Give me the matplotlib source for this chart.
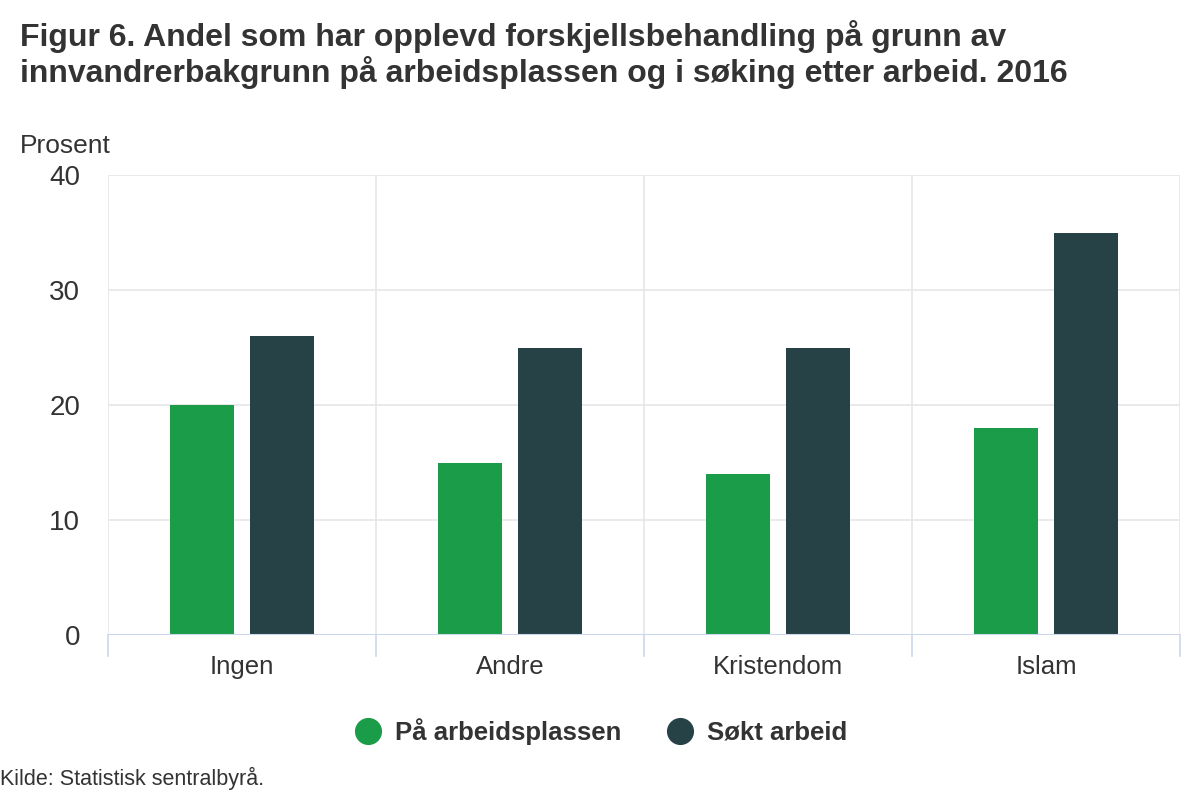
import numpy as np
import matplotlib
matplotlib.use("Agg")
import matplotlib.pyplot as plt
from matplotlib.lines import Line2D

plt.rcParams['font.family'] = ['Liberation Sans', 'DejaVu Sans']

categories = ['Ingen', 'Andre', 'Kristendom', 'Islam']
paa_arbeidsplassen = [20, 15, 14, 18]
sokt_arbeid = [26, 25, 25, 35]
series_names = ['På arbeidsplassen', 'Søkt arbeid']
colors = ['#1b9c48', '#274247']
txt = '#333333'

fig = plt.figure(figsize=(12, 8), dpi=100)
ax = fig.add_axes([0.09, 0.206, 0.8933, 0.575])

x = np.arange(len(categories))
w = 0.239
off = 0.149
ax.bar(x - off, paa_arbeidsplassen, width=w, color=colors[0], zorder=3)
ax.bar(x + off, sokt_arbeid, width=w, color=colors[1], zorder=3)

ax.set_xlim(-0.5, len(categories) - 0.5)
ax.set_ylim(0, 40)
ax.set_yticks([0, 10, 20, 30, 40])
ax.set_xticks(x)
ax.set_xticklabels(categories, fontsize=18.5, color=txt)
ax.tick_params(axis='x', length=0, pad=14)
ax.tick_params(axis='y', length=0, pad=20, labelsize=20, labelcolor=txt)

# grid
for yv in [10, 20, 30, 40]:
    ax.axhline(yv, color='#e6e6e6', lw=1.2, zorder=1)
for b in np.arange(-0.5, len(categories), 1.0):
    ax.axvline(b, color='#e6e6e6', lw=1.2, zorder=1)
    ax.plot([b, b], [0, -0.045], transform=ax.get_xaxis_transform(),
            color='#ccd6eb', lw=1.2, clip_on=False, zorder=2)
ax.axhline(0, color='#ccd6eb', lw=1.5, zorder=4)

for s in ax.spines.values():
    s.set_visible(False)

fig.text(0.0167, 0.942, 'Figur 6. Andel som har opplevd forskjellsbehandling på grunn av',
         fontsize=23, fontweight='bold', color=txt, va='baseline', ha='left')
fig.text(0.0167, 0.897, 'innvandrerbakgrunn på arbeidsplassen og i søking etter arbeid. 2016',
         fontsize=23, fontweight='bold', color=txt, va='baseline', ha='left')
fig.text(0.0167, 0.809, 'Prosent', fontsize=19, color=txt, ha='left', va='baseline')
fig.text(0.0, 0.013, 'Kilde: Statistisk sentralbyrå.', fontsize=15.5, color=txt,
         ha='left', va='bottom')

handles = [Line2D([], [], marker='o', ls='', markersize=18.5, color=c) for c in colors]
fig.legend(handles, series_names, loc='center', bbox_to_anchor=(0.501, 0.086),
           ncol=2, frameon=False, handlelength=1.0, handletextpad=0.55,
           columnspacing=1.75, borderpad=0,
           prop={'size': 18.5, 'weight': 'bold'}, labelcolor=txt)

fig.savefig('out.png', dpi=100)
